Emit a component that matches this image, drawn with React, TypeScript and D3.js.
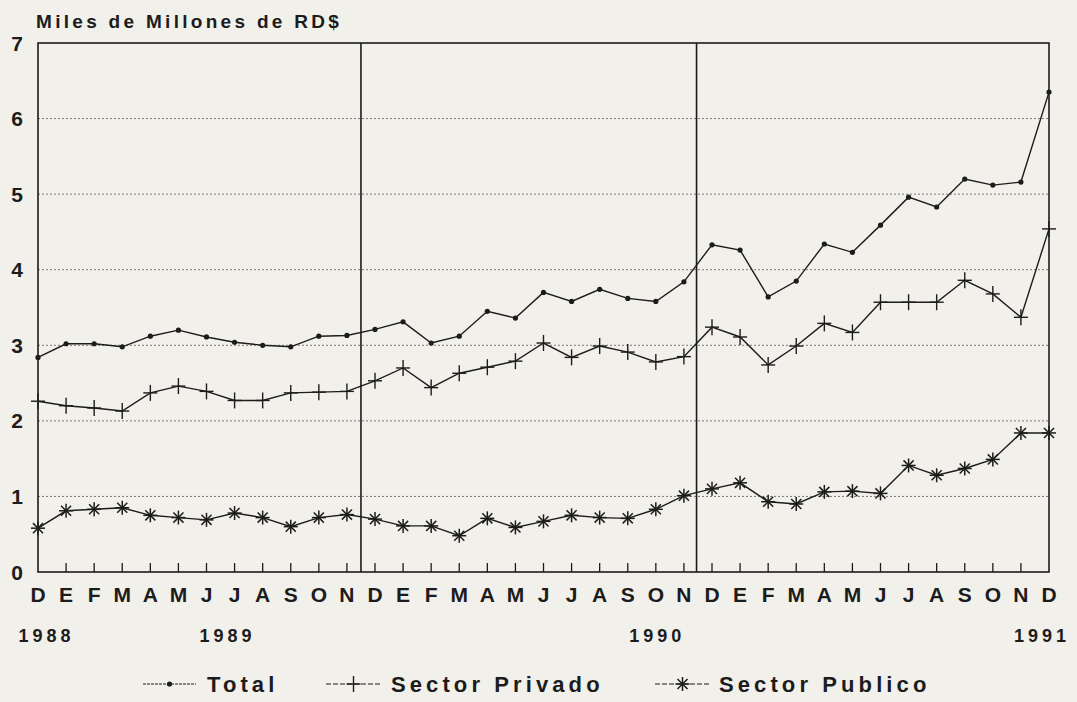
import React from "react";
import * as d3 from "d3";

const months = ["D","E","F","M","A","M","J","J","A","S","O","N","D","E","F","M","A","M","J","J","A","S","O","N","D","E","F","M","A","M","J","J","A","S","O","N","D"];
const total = [2.84,3.02,3.02,2.98,3.12,3.20,3.11,3.04,3.00,2.98,3.12,3.13,3.21,3.31,3.03,3.12,3.45,3.36,3.70,3.58,3.74,3.62,3.58,3.84,4.33,4.26,3.64,3.85,4.34,4.23,4.59,4.96,4.83,5.20,5.12,5.16,6.35];
const privado = [2.26,2.20,2.17,2.13,2.37,2.46,2.39,2.27,2.27,2.37,2.38,2.39,2.53,2.70,2.44,2.63,2.71,2.79,3.03,2.84,2.99,2.91,2.78,2.85,3.24,3.11,2.74,2.99,3.29,3.17,3.57,3.57,3.57,3.86,3.68,3.37,4.54];
const publico = [0.58,0.81,0.83,0.85,0.75,0.72,0.69,0.78,0.72,0.60,0.72,0.76,0.70,0.61,0.61,0.48,0.71,0.59,0.67,0.75,0.72,0.71,0.83,1.01,1.10,1.18,0.93,0.90,1.06,1.07,1.04,1.41,1.28,1.37,1.49,1.84,1.84];
const yTicks = [0,1,2,3,4,5,6,7];
const years = ["1988","1989","1990","1991"];
const yearPos = [0.3, 6.75, 22.05, 35.75];
const dividers = [11.5, 23.45];
const legendItems = ["Total","Sector Privado","Sector Publico"];
const title = "Miles de Millones de RD$";

const W = 1077, H = 702;
const INK = "#1c1c1c";
const FONT = "'Liberation Sans', Arial, Helvetica, sans-serif";

function Marker({ kind, x, y }: { kind: number; x: number; y: number }) {
  if (kind === 0) return <circle cx={x} cy={y} r={2.6} fill={INK} />;
  if (kind === 1) {
    return (
      <g stroke={INK} strokeWidth={1.4}>
        <line x1={x - 7} x2={x + 7} y1={y} y2={y} />
        <line x1={x} x2={x} y1={y - 8} y2={y + 8} />
      </g>
    );
  }
  const r = 7;
  const d = r * 0.72;
  return (
    <g stroke={INK} strokeWidth={1.5}>
      <line x1={x - r} x2={x + r} y1={y} y2={y} />
      <line x1={x} x2={x} y1={y - r} y2={y + r} />
      <line x1={x - d} x2={x + d} y1={y - d} y2={y + d} />
      <line x1={x - d} x2={x + d} y1={y + d} y2={y - d} />
    </g>
  );
}

export default function App() {
  const x = d3.scaleLinear().domain([0, months.length - 1]).range([38, 1049]);
  const y = d3.scaleLinear().domain([0, 7]).range([572, 43]);
  const series = [total, privado, publico];
  const line = d3.line<number>().x((_, i) => x(i)).y((v) => y(v));
  const left = x(0), right = x(months.length - 1), top = y(7), bottom = y(0);

  const legendX = [[143, 196, 207], [326, 381, 391], [655, 710, 719]];

  return (
    <div style={{ position: "fixed", left: 0, top: 0 }}>
      <svg width={W} height={H} style={{ display: "block", background: "#f2f0ea" }} fontFamily={FONT}>
        <rect x={0} y={0} width={W} height={H} fill="#f2f0ea" />
        <text x={36} y={28} fontSize={19} fontWeight="bold" fill={INK} letterSpacing={3.3}>{title}</text>

        {yTicks.filter((t) => t > 0 && t < 7).map((t) => (
          <line key={t} x1={left} x2={right} y1={y(t)} y2={y(t)} stroke="#7a7a7a" strokeWidth={1} strokeDasharray="2,2" />
        ))}
        {yTicks.map((t) => (
          <text key={t} x={23} y={y(t) + 2} fontSize={21} fontWeight="bold" fill={INK} textAnchor="end" dominantBaseline="middle">{t}</text>
        ))}

        <rect x={left} y={top} width={right - left} height={bottom - top} fill="none" stroke={INK} strokeWidth={1.6} />
        {dividers.map((d, i) => (
          <line key={i} x1={x(d)} x2={x(d)} y1={top} y2={bottom} stroke={INK} strokeWidth={1.6} />
        ))}
        {months.map((_, i) => (i > 0 && i < months.length - 1 ? (
          <line key={i} x1={x(i)} x2={x(i)} y1={bottom} y2={bottom - 9} stroke={INK} strokeWidth={1.3} />
        ) : null))}

        {series.map((s, k) => (
          <g key={k}>
            <path d={line(s) || ""} fill="none" stroke={INK} strokeWidth={1.4} />
            {s.map((v, i) => <Marker key={i} kind={k} x={x(i)} y={y(v)} />)}
          </g>
        ))}

        {months.map((m, i) => (
          <text key={i} x={x(i)} y={602} fontSize={21} fontWeight="bold" fill={INK} textAnchor="middle">{m}</text>
        ))}
        {years.map((yr, i) => (
          <text key={yr} x={x(yearPos[i])} y={642} fontSize={18} fontWeight="bold" fill={INK} textAnchor="middle" letterSpacing={4}>{yr}</text>
        ))}

        {legendItems.map((name, k) => {
          const [a, b, tx] = legendX[k];
          const mid = (a + b) / 2;
          return (
            <g key={name}>
              <line x1={a} x2={b} y1={684} y2={684} stroke={INK} strokeWidth={1.2} strokeDasharray={k === 0 ? "3,1" : "5,2"} />
              <Marker kind={k} x={mid} y={684} />
              <text x={tx} y={692} fontSize={22} fill={INK} letterSpacing={4.1} fontWeight="bold">{name}</text>
            </g>
          );
        })}
      </svg>
    </div>
  );
}
